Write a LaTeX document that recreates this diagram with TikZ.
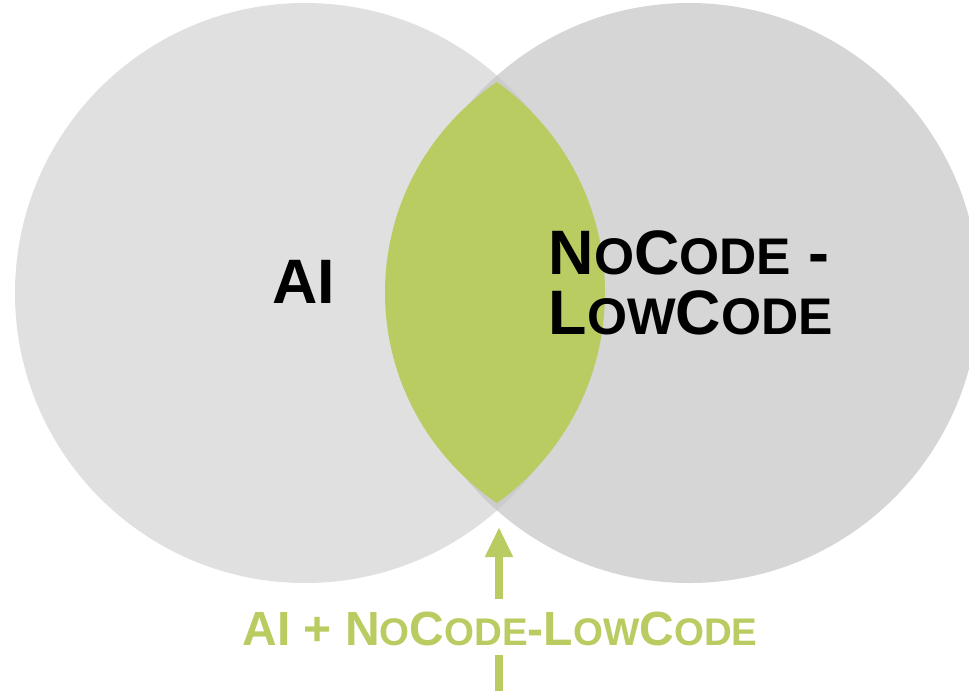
\documentclass[tikz,border=0pt]{standalone}
\usepackage{fontspec}
\setmainfont{Liberation Sans}
\usetikzlibrary{arrows.meta}
\definecolor{lgray}{HTML}{E0E0E0}
\definecolor{rgray}{HTML}{D6D6D6}
\definecolor{ovgray}{HTML}{CCCCCC}
\definecolor{lime}{RGB}{185,204,98}
\newcommand{\topS}[1]{{\fontsize{51.5}{51.5}\selectfont #1}}
\newcommand{\botS}[1]{{\fontsize{38.5}{38.5}\selectfont #1}}
\begin{document}
\begin{tikzpicture}[x=1pt,y=-1pt,
  bigtext/.style={inner sep=0pt, text=black, font=\bfseries\fontsize{62.8}{60}\selectfont},
  greentext/.style={inner sep=0pt, text=lime, font=\bfseries\fontsize{48}{48}\selectfont},
  uparrow/.style={draw=lime, line width=8pt, -{Triangle[length=30pt,width=26pt]}},
  plainline/.style={draw=lime, line width=8pt}]
\useasboundingbox (0,0) rectangle (969,691);
\clip (0,0) rectangle (969,691);
\fill[white] (0,0) rectangle (969,691);
% circles
\fill[lgray] (305,293) circle (290pt);
\fill[rgray] (689,293) circle (290pt);
\begin{scope}
  \clip (305,293) circle (290pt);
  \fill[ovgray] (689,293) circle (290pt);
\end{scope}
% lens
\begin{scope}
  \clip (638.8,292.5) circle (253.8pt);
  \fill[lime] (345.9,292.5) circle (259.1pt);
\end{scope}
% labels
\node[bigtext, anchor=base] (ai) at (304,303) {AI};
\node[bigtext, anchor=west, align=left] (nc) at (548.5,282.5)
  {N\topS{O}C\topS{ODE} -\\L\topS{OW}C\topS{ODE}};
\node[greentext, anchor=base, text height=36pt, text depth=0pt, inner ysep=10pt] (lbl) at (500,645)
  {AI + N\botS{O}C\botS{ODE}-L\botS{OW}C\botS{ODE}};
% arrow
\coordinate (tip) at (499,527);
\coordinate (bot) at (499,691);
\draw[uparrow] (lbl.north -| tip) -- (tip);
\draw[plainline] (bot) -- (lbl.south -| bot);
\end{tikzpicture}
\end{document}
